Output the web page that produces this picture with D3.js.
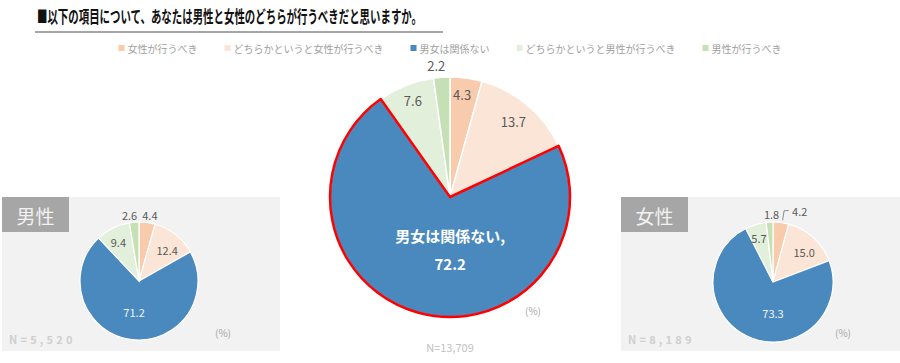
<!DOCTYPE html>
<html>
<head>
<meta charset="utf-8">
<script src="https://cdn.jsdelivr.net/npm/d3@7"></script>
<style>
  body { margin: 0; background: #fff; }
  svg { display: block; font-family: "Noto Sans CJK JP", "Noto Sans", sans-serif; }
</style>
</head>
<body>
<svg id="chart"></svg>
<script>
// Chart data
const categories = ["女性が行うべき", "どちらかというと女性が行うべき", "男女は関係ない", "どちらかというと男性が行うべき", "男性が行うべき"];
const totalValues = [4.3, 13.7, 72.2, 7.6, 2.2];
const maleValues = [4.4, 12.4, 71.2, 9.4, 2.6];
const femaleValues = [4.2, 15.0, 73.3, 5.7, 1.8];
const colors = ["#F8CBAD", "#FBE5D6", "#4A89BE", "#E2EFDA", "#C5E0B4"];

const width = 900, height = 363;
const fmt = d3.format(".1f");

const svg = d3.select("#chart")
    .attr("width", width)
    .attr("height", height);

// ---- Title ----
svg.append("text")
    .attr("x", 37).attr("y", 23)
    .attr("font-size", 17).attr("font-weight", 700).attr("fill", "#111")
    .attr("textLength", 385).attr("lengthAdjust", "spacingAndGlyphs")
    .text("■以下の項目について、あなたは男性と女性のどちらが行うべきだと思いますか。");

svg.append("line")
    .attr("x1", 35).attr("x2", 443).attr("y1", 32).attr("y2", 32)
    .attr("stroke", "#a6a6a6").attr("stroke-width", 2);

// ---- Legend ----
const legend = svg.append("g");
let lx = 0;
categories.forEach((c, i) => {
    const g = legend.append("g").attr("transform", `translate(${lx},0)`);
    g.append("rect").attr("x", 0).attr("y", -3).attr("width", 6).attr("height", 6).attr("fill", colors[i]);
    const t = g.append("text").attr("x", 9).attr("y", 0)
        .attr("dominant-baseline", "central")
        .attr("font-size", 10).attr("fill", "#a0a0a0").text(c);
    lx += 9 + t.node().getComputedTextLength() + 27;
});
lx -= 27;
legend.attr("transform", `translate(${450 - lx / 2},48)`);

// ---- Side panels ----
function panel(x, w, title, nText) {
    const g = svg.append("g");
    g.append("rect").attr("x", x).attr("y", 197).attr("width", w).attr("height", 154).attr("fill", "#F2F2F2");
    g.append("rect").attr("x", x).attr("y", 197).attr("width", 67).attr("height", 35).attr("fill", "#A6A6A6");
    g.append("text").attr("x", x + 33.5).attr("y", 215)
        .attr("text-anchor", "middle").attr("dominant-baseline", "central")
        .attr("font-size", 19).attr("fill", "#f2f2f2").text(title);
    g.append("text").attr("x", x + 7).attr("y", 344)
        .attr("font-size", 11).attr("font-weight", 700).attr("letter-spacing", 3.2)
        .attr("fill", "#cfcfcf").text(nText);
}
panel(2, 278, "男性", "N=5,520");
panel(621, 279, "女性", "N=8,189");

// ---- Pies ----
const pie = d3.pie().sort(null).value(d => d).startAngle(0).endAngle(2 * Math.PI);
const rad = Math.PI / 180;

// label placement: [radius factor, angle nudge in degrees]
function drawPie(values, cx, cy, r, labelPos, opts) {
    const g = svg.append("g").attr("transform", `translate(${cx},${cy})`);
    const arcs = pie(values);
    const arc = d3.arc().innerRadius(0).outerRadius(r);

    g.selectAll("path.slice")
        .data(arcs)
        .join("path")
        .attr("class", "slice")
        .attr("d", arc)
        .attr("fill", (d, i) => colors[i])
        .attr("stroke", "#fff")
        .attr("stroke-width", opts.sep);

    if (opts.highlight != null) {
        g.append("path")
            .attr("d", arc(arcs[opts.highlight]))
            .attr("fill", "none")
            .attr("stroke", "#FF0000")
            .attr("stroke-width", 2.5)
            .attr("stroke-linejoin", "round");
    }

    const pos = arcs.map((d, i) => {
        const [f, nudge] = labelPos[i];
        const a = (d.startAngle + d.endAngle) / 2 + nudge * rad;
        return [Math.sin(a) * r * f, -Math.cos(a) * r * f];
    });

    if (opts.leader != null) {
        const d = arcs[opts.leader];
        const a = (d.startAngle + d.endAngle) / 2 + 1.3 * rad;
        const p0 = [Math.sin(a) * r * 1.04, -Math.cos(a) * r * 1.04];
        const [lxp, lyp] = pos[opts.leader];
        g.append("polyline")
            .attr("points", [p0, [p0[0] + 1.5, lyp], [lxp - 11, lyp]].map(p => p.join(",")).join(" "))
            .attr("fill", "none").attr("stroke", "#8c8c8c").attr("stroke-width", 1);
    }

    g.selectAll("text.val")
        .data(arcs)
        .join("text")
        .attr("class", "val")
        .attr("x", (d, i) => pos[i][0])
        .attr("y", (d, i) => pos[i][1])
        .attr("text-anchor", "middle")
        .attr("dominant-baseline", "central")
        .attr("font-size", (d, i) => i === 2 ? opts.innerFs : opts.fs)
        .attr("fill", (d, i) => i === 2 ? opts.innerFill : "#595959")
        .attr("font-weight", (d, i) => i === 2 ? opts.innerWeight : 400)
        .each(function (d, i) {
            const t = d3.select(this);
            if (i === 2 && opts.innerName) {
                t.append("tspan").attr("x", pos[i][0]).attr("dy", "-0.9em").text(categories[i] + ",");
                t.append("tspan").attr("x", pos[i][0]).attr("dy", "1.85em").text(fmt(d.data));
            } else {
                t.text(fmt(d.data));
            }
        });

    g.append("text")
        .attr("x", opts.pct[0]).attr("y", opts.pct[1])
        .attr("text-anchor", "middle").attr("dominant-baseline", "central")
        .attr("font-size", 10).attr("fill", "#a6a6a6").text("(%)");
    return g;
}

// Main (all respondents)
drawPie(totalValues, 450, 197, 120,
    [[0.86, -1], [0.82, 0], [0.43, -15], [0.86, 0.5], [1.1, -2]],
    { sep: 1.5, highlight: 2, fs: 13, innerFs: 15, innerFill: "#fff", innerWeight: 700, innerName: true, pct: [83, 113] });

svg.append("text")
    .attr("x", 450).attr("y", 347)
    .attr("text-anchor", "middle").attr("dominant-baseline", "central")
    .attr("font-size", 11).attr("fill", "#bfbfbf").text("N=13,709");

// Male
drawPie(maleValues, 139, 281, 59,
    [[1.13, 1.5], [0.71, 4], [0.53, 0.5], [0.75, -1.5], [1.13, -3.5]],
    { sep: 1.2, fs: 11, innerFs: 11, innerFill: "#eef3fa", innerWeight: 400, pct: [84, 51] });

// Female
drawPie(femaleValues, 773, 282, 60,
    [[1.27, 13], [0.72, 4], [0.52, -21], [0.77, -1], [1.13, 2]],
    { sep: 1.2, fs: 11, innerFs: 11, innerFill: "#eef3fa", innerWeight: 400, leader: 0, pct: [70, 50] });
</script>
</body>
</html>
